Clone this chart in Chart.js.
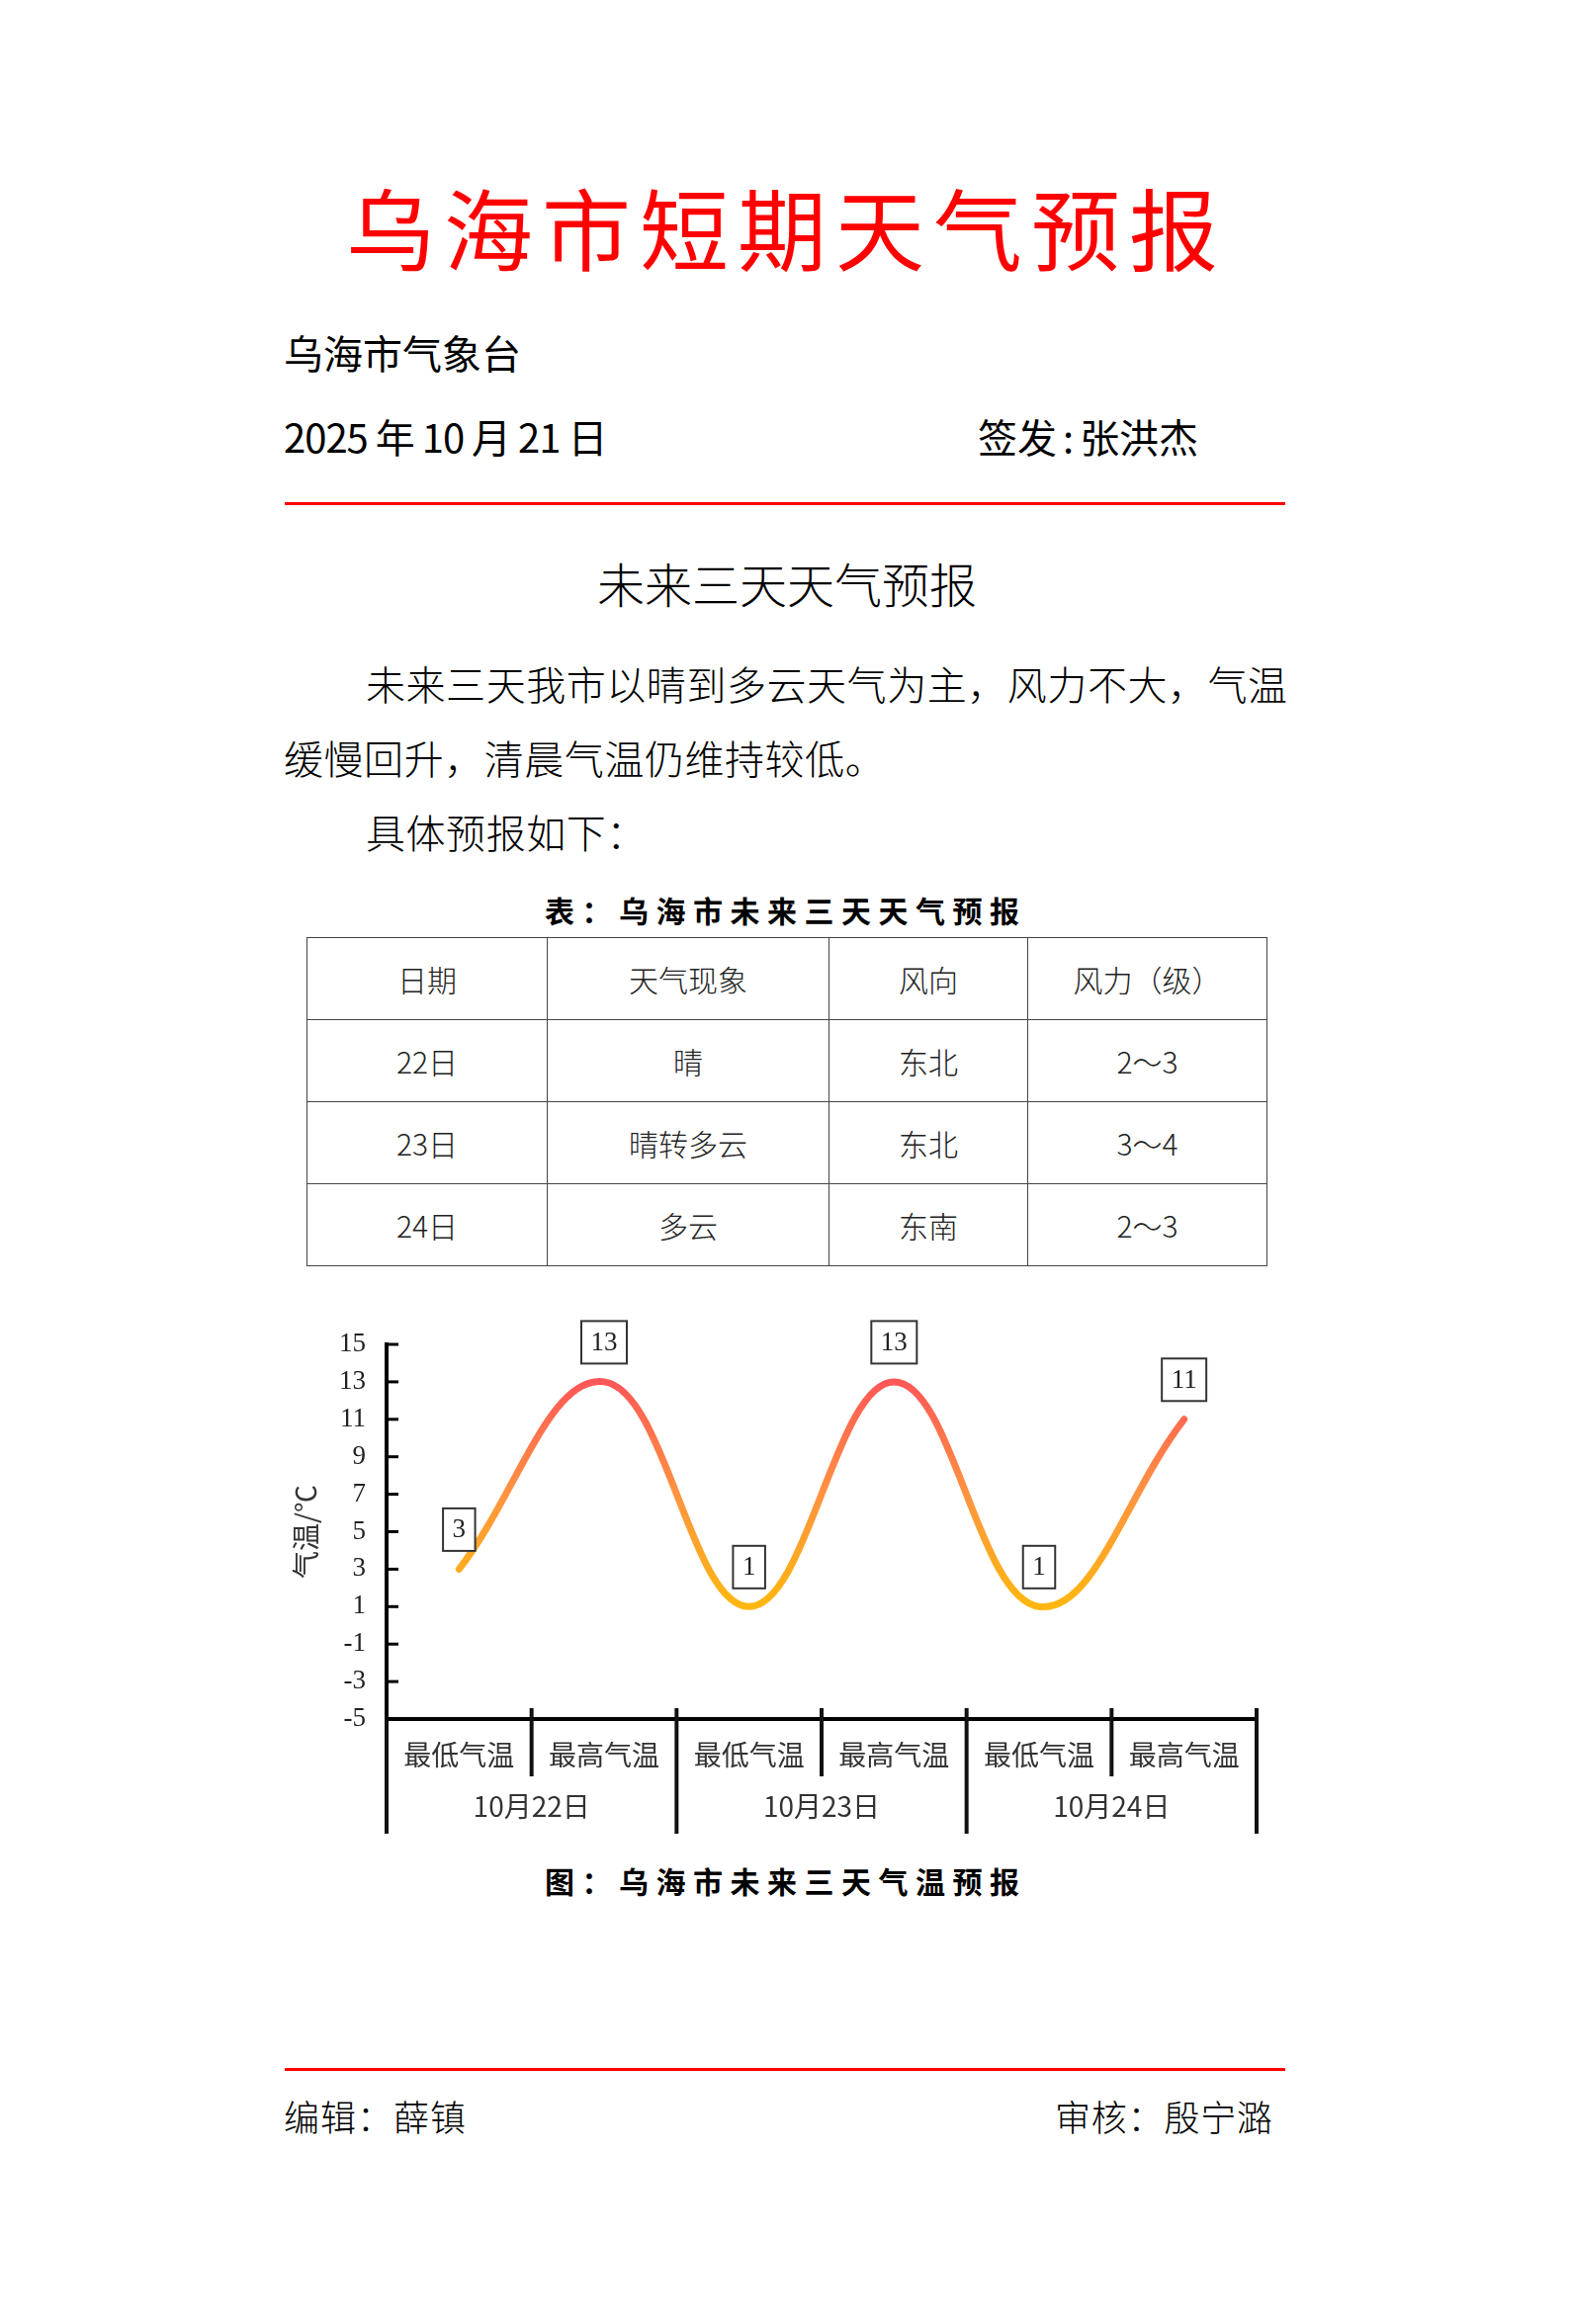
<!DOCTYPE html>
<html>
<head>
<meta charset="utf-8">
<script src="https://cdn.jsdelivr.net/npm/chart.js@4.4.1/dist/chart.umd.min.js"></script>
<style>
  html, body { margin: 0; padding: 0; background: #fff; }
  body { width: 1587px; height: 2351px; position: relative; overflow: hidden;
         font-family: "Noto Sans CJK SC", sans-serif; color: #000; }
  .t { position: absolute; white-space: nowrap; line-height: 1; }
  .rule { position: absolute; left: 288px; width: 1012px; height: 3px; background: #ff0000; }
  .cap { font-size: 30px; font-weight: bold; letter-spacing: 7.5px; }
  table { position: absolute; left: 310px; top: 948px; border-collapse: collapse; }
  td { border: 1.5px solid #444; height: 82px; padding: 0; text-align: center;
       font-size: 30px; font-weight: 300; color: #222; }
  #chartBox { position: absolute; left: 290px; top: 1320px; width: 1010px; height: 560px; }
</style>
</head>
<body>

<div class="t" style="left:350px; top:183px; font-size:90px; font-weight:400; letter-spacing:9px; color:#ff0000;">乌海市短期天气预报</div>
<div class="t" style="left:287px; top:336px; font-size:40px;">乌海市气象台</div>
<div class="t" style="left:287px; top:421px; font-size:40px; letter-spacing:-1px;">2025 年 10 月 21 日</div>
<div class="t" style="left:989px; top:421px; font-size:40px;">签发<span style="margin:0 6px;">:</span>张洪杰</div>
<div class="rule" style="top:508px;"></div>

<div class="t" style="left:604px; top:565px; font-size:48px; font-weight:300;">未来三天天气预报</div>
<div class="t" style="left:370px; top:671px; font-size:40px; font-weight:300; letter-spacing:0.55px;">未来三天我市以晴到多云天气为主，风力不大，气温</div>
<div class="t" style="left:287px; top:746px; font-size:40px; font-weight:300; letter-spacing:0.55px;">缓慢回升，清晨气温仍维持较低。</div>
<div class="t" style="left:370px; top:821px; font-size:40px; font-weight:300; letter-spacing:0.55px;">具体预报如下：</div>

<div class="t cap" style="left:551px; top:905px;">表：乌海市未来三天天气预报</div>
<table>
  <tr><td style="width:242px">日期</td><td style="width:284px">天气现象</td><td style="width:200px">风向</td><td style="width:241px">风力（级）</td></tr>
  <tr><td>22日</td><td>晴</td><td>东北</td><td>2～3</td></tr>
  <tr><td>23日</td><td>晴转多云</td><td>东北</td><td>3～4</td></tr>
  <tr><td>24日</td><td>多云</td><td>东南</td><td>2～3</td></tr>
</table>

<div id="chartBox"><canvas id="tempChart" width="1010" height="560"></canvas></div>

<div class="t cap" style="left:551px; top:1887px;">图：乌海市未来三天气温预报</div>

<div class="rule" style="top:2092px;"></div>
<div class="t" style="left:287px; top:2122px; font-size:36px; font-weight:300; letter-spacing:1px;">编辑：薛镇</div>
<div class="t" style="left:1067px; top:2122px; font-size:36px; font-weight:300; letter-spacing:0.8px;">审核：殷宁潞</div>

<script>
// chart data
const xLabels = ['最低气温', '最高气温', '最低气温', '最高气温', '最低气温', '最高气温'];
const dayLabels = ['10月22日', '10月23日', '10月24日'];
const temps = [3, 13, 1, 13, 1, 11];
const yTicks = [-5, -3, -1, 1, 3, 5, 7, 9, 11, 13, 15];

const cjk = '"Noto Sans CJK SC"';
const serif = '"Liberation Serif"';

// short tick marks pointing into the plot
const innerTicks = {
    id: 'innerTicks',
    afterDraw(chart) {
        const ctx = chart.ctx;
        const ys = chart.scales.y;
        ctx.save();
        ctx.strokeStyle = '#000';
        ctx.lineWidth = 3;
        ys.ticks.forEach(t => {
            const y = ys.getPixelForValue(t.value);
            ctx.beginPath();
            ctx.moveTo(ys.right, y);
            ctx.lineTo(ys.right + 12, y);
            ctx.stroke();
        });
        ctx.restore();
    }
};

// category dividers below the x axis + day labels
const groupAxis = {
    id: 'groupAxis',
    afterDraw(chart) {
        const ctx = chart.ctx;
        const xs = chart.scales.x;
        const axisY = xs.top;
        ctx.save();
        ctx.strokeStyle = '#111';
        ctx.lineWidth = 4;
        for (let k = 0; k <= xLabels.length; k++) {
            const x = xs.getPixelForValue(k - 0.5);
            const major = k % 2 === 0;
            ctx.beginPath();
            ctx.moveTo(x, k === 0 ? axisY : axisY - 11);
            ctx.lineTo(x, axisY + (major ? 116 : 58));
            ctx.stroke();
        }
        ctx.fillStyle = '#333';
        ctx.font = '28px ' + cjk;
        ctx.textAlign = 'center';
        ctx.textBaseline = 'middle';
        dayLabels.forEach((d, i) => {
            ctx.fillText(d, xs.getPixelForValue(i * 2 + 0.5), axisY + 88);
        });
        ctx.restore();
    }
};

// boxed value labels above each point
const boxLabels = {
    id: 'boxLabels',
    afterDatasetsDraw(chart) {
        const ctx = chart.ctx;
        const meta = chart.getDatasetMeta(0);
        ctx.save();
        ctx.font = '27px ' + serif;
        ctx.textAlign = 'center';
        ctx.textBaseline = 'middle';
        meta.data.forEach((pt, i) => {
            const txt = String(temps[i]);
            const w = ctx.measureText(txt).width + 19;
            const h = 43;
            const cx = pt.x, cy = pt.y - 40;
            ctx.fillStyle = '#fff';
            ctx.fillRect(cx - w / 2, cy - h / 2, w, h);
            ctx.strokeStyle = '#333';
            ctx.lineWidth = 2;
            ctx.strokeRect(cx - w / 2, cy - h / 2, w, h);
            ctx.fillStyle = '#222';
            ctx.fillText(txt, cx, cy + 1);
        });
        ctx.restore();
    }
};

function lineGradient(c) {
    const chart = c.chart;
    if (!chart.chartArea) return '#ff9440';
    const ys = chart.scales.y;
    const g = chart.ctx.createLinearGradient(0, ys.getPixelForValue(Math.max(...temps)),
                                             0, ys.getPixelForValue(Math.min(...temps)));
    g.addColorStop(0, '#ff5757');
    g.addColorStop(0.5, '#ff9440');
    g.addColorStop(1, '#ffb70f');
    return g;
}

function draw() {
    new Chart(document.getElementById('tempChart'), {
        type: 'line',
        data: {
            labels: xLabels,
            datasets: [{
                data: temps,
                borderColor: lineGradient,
                borderWidth: 7,
                borderCapStyle: 'round',
                tension: 0.4,
                pointRadius: 0,
                fill: false
            }]
        },
        options: {
            responsive: false,
            animation: false,
            layout: {padding: {top: 40, right: 29, left: 0, bottom: 0}},
            plugins: {legend: {display: false}, tooltip: {enabled: false}},
            scales: {
                x: {
                    offset: true,
                    grid: {display: false, drawTicks: false},
                    border: {display: true, color: '#000', width: 4},
                    ticks: {
                        font: {family: cjk, size: 28},
                        color: '#333',
                        padding: 20,
                        maxRotation: 0,
                        autoSkip: false
                    },
                    afterFit: s => { s.height = 141; }
                },
                y: {
                    min: -5,
                    max: 15,
                    afterBuildTicks: s => { s.ticks = yTicks.map(v => ({value: v})); },
                    grid: {display: false, drawTicks: false},
                    border: {display: true, color: '#000', width: 4},
                    ticks: {font: {family: serif, size: 27}, color: '#222', padding: 21},
                    title: {
                        display: true,
                        text: '气温/℃',
                        font: {family: cjk, size: 28},
                        color: '#333',
                        padding: {top: 3, bottom: 0}
                    },
                    afterFit: s => { s.width = 101; }
                }
            }
        },
        plugins: [innerTicks, groupAxis, boxLabels]
    });
}

if (document.fonts && document.fonts.ready) {
    document.fonts.ready.then(draw);
} else {
    draw();
}
</script>
</body>
</html>
